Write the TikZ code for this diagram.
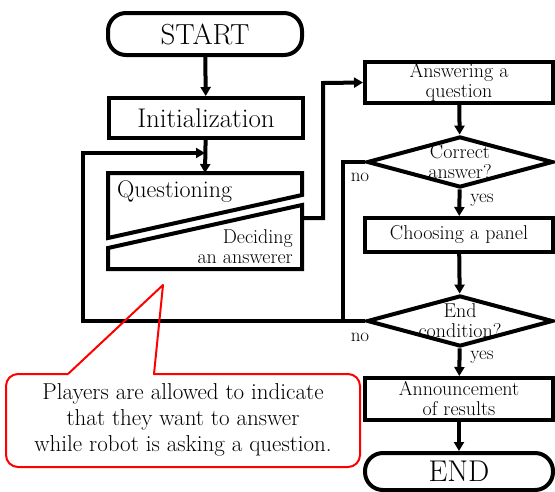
\documentclass[tikz,border=0pt]{standalone}
\usetikzlibrary{arrows.meta,shapes.geometric}
\tikzset{
  flow/.style={line width=4pt},
  arr/.style={flow,-{Triangle[width=10pt,length=9pt]}},
  box/.style={draw,line width=4pt,minimum width=188pt,minimum height=41pt,inner sep=0pt,align=center,font=\fontsize{20}{20}\selectfont},
  term/.style={box,rounded corners=18pt},
  decision/.style={draw,diamond,line width=4pt,minimum width=186pt,minimum height=51pt,inner sep=0pt,aspect=3.6},
  lbl/.style={inner sep=0pt,font=\fontsize{19}{19}\selectfont},
  note/.style={inner sep=0pt,align=center,font=\fontsize{23}{26}\selectfont}
}
\begin{document}
\begin{tikzpicture}[x=1pt,y=-1pt]
    \useasboundingbox (0,0) rectangle (555,491);

    \node[term,minimum width=194pt,minimum height=42pt,font=\fontsize{29}{29}\selectfont] (start) at (205,34) {START};
    \node[box,minimum width=194pt,minimum height=40pt,font=\fontsize{27}{27}\selectfont] (init) at (206,118) {Initialization};

    \draw[flow] (108,173) -- (302,173) -- (302,195) -- (108,238) -- cycle;
    \draw[flow] (108,248) -- (302,205) -- (302,269) -- (108,269) -- cycle;
    \node[anchor=base west,inner sep=0pt,font=\fontsize{24}{24}\selectfont] (ask) at (117,197) {Questioning};
    \node[anchor=north east,inner sep=0pt,align=right,font=\fontsize{20}{20}\selectfont] (pick) at (293,229) {Deciding\\an answerer};
    \coordinate (qtop) at (205,173);
    \coordinate (merge) at (205,153);
    \coordinate (pickout) at (302,218);

    \node[box] (answer) at (459,82.5) {Answering a\\question};
    \node[decision] (correct) at (460,162) {};
    \node[lbl,font=\fontsize{20}{20}\selectfont,align=center] (correcttxt) at (correct.center) {Correct\\answer?};
    \node[box,minimum height=34pt] (panel) at (459,235) {Choosing a panel};
    \node[decision] (endcond) at (460,321) {};
    \node[lbl,font=\fontsize{20}{20}\selectfont,align=center] (endtxt) at (endcond.center) {End\\condition?};
    \node[box,minimum height=42pt] (results) at (459,399) {Announcement\\of results};
    \node[term,minimum height=37pt,font=\fontsize{30}{30}\selectfont] (finish) at (459,471.5) {END};

    \draw[arr] (start) -- (init);
    \draw[arr] (init) -- (qtop);
    \draw[arr] (endcond.west) -- (83,321) -- (83,153) -- (merge);
    \draw[flow] (correct.west) -- (343,162) -- (343,321);
    \draw[arr] (pickout) -- (323,218) -- (323,83) -- (answer.west);
    \draw[arr] (answer) -- (correct);
    \draw[arr] (correct) -- (panel);
    \draw[arr] (panel) -- (endcond);
    \draw[arr] (endcond) -- (results);
    \draw[arr] (results) -- (finish);

    \node[lbl] (no1) at (360,177) {no};
    \node[lbl] (yes1) at (482,200) {yes};
    \node[lbl] (no2) at (360,337) {no};
    \node[lbl] (yes2) at (482,357) {yes};

    \node[note] (hint) at (183,420) {Players are allowed to indicate\\that they want to answer\\while robot is asking a question.};
    \draw[red,line width=2pt,line join=round] (68,374) -- (163,285) -- (154,374) [rounded corners=12pt] -- (360,374) -- (360,467) -- (6,467) -- (6,374) -- (68,374);
  \end{tikzpicture}
\end{document}
